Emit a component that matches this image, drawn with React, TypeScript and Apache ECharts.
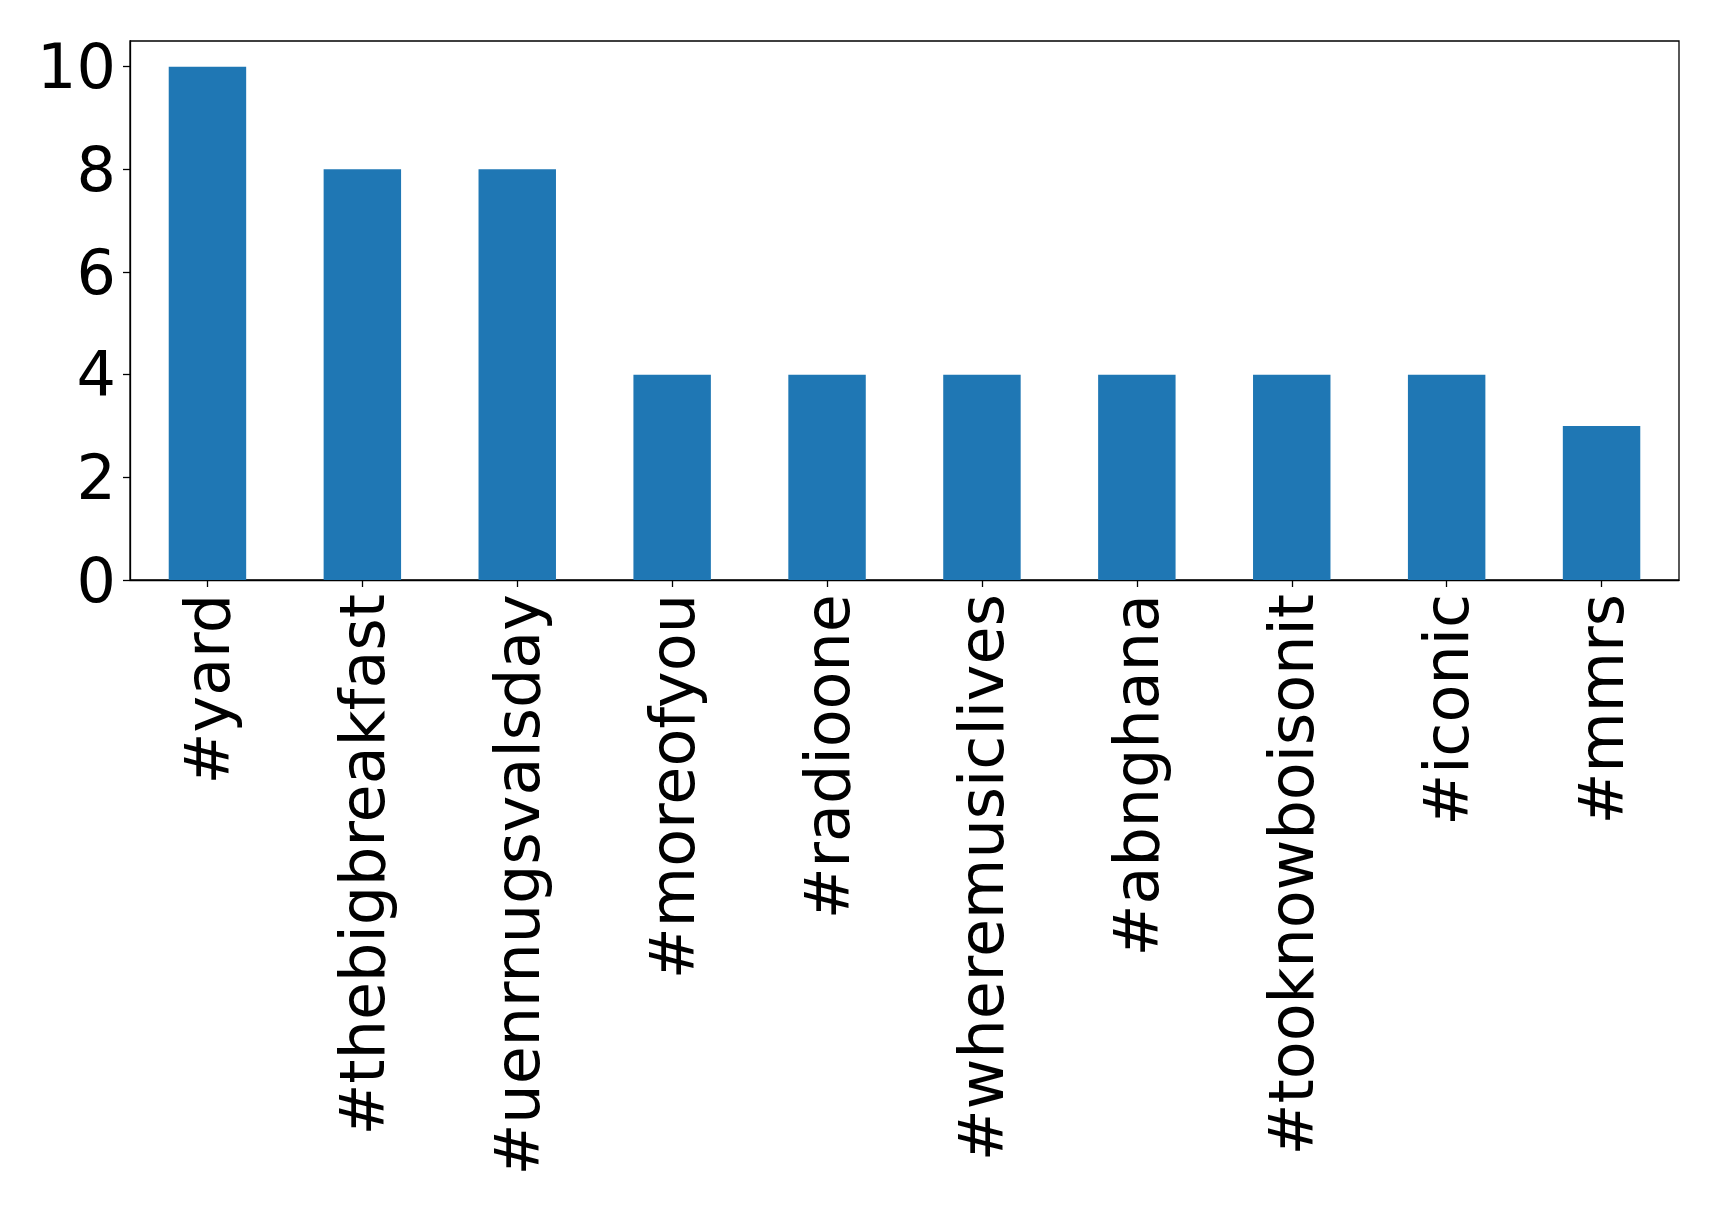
import React, { useEffect, useRef } from "react";
import * as echarts from "echarts";

const categories = [
  "#yard",
  "#thebigbreakfast",
  "#uenrnugsvalsday",
  "#moreofyou",
  "#radioone",
  "#wheremusiclives",
  "#abnghana",
  "#tooknowboisonit",
  "#iconic",
  "#mmrs",
];
const counts = [10, 8, 8, 4, 4, 4, 4, 4, 4, 3];
const yTicks = [0, 2, 4, 6, 8, 10];

export default function App() {
  const ref = useRef<HTMLDivElement>(null);
  useEffect(() => {
    document.body.style.margin = "0";
    const chart = echarts.init(ref.current!, undefined, { renderer: "svg" });
    const font = "DejaVu Sans";
    chart.setOption({
      animation: false,
      backgroundColor: "#ffffff",
      grid: {
        left: 130,
        right: 40,
        top: 41,
        bottom: 634,
        show: true,
        borderColor: "#000",
        borderWidth: 1.3,
        backgroundColor: "transparent",
      },
      xAxis: {
        type: "category",
        data: categories,
        boundaryGap: true,
        axisLine: { show: true, lineStyle: { color: "#000", width: 1.3 } },
        axisTick: { show: true, alignWithLabel: true, length: 7, lineStyle: { color: "#000", width: 1.3 } },
        axisLabel: {
          rotate: 90,
          interval: 0,
          margin: 14,
          color: "#000",
          fontFamily: font,
          fontSize: 62,
        },
        splitLine: { show: false },
      },
      yAxis: {
        type: "value",
        min: 0,
        max: 10.5,
        interval: 2,
        axisLine: { show: true, lineStyle: { color: "#000", width: 1.3 } },
        axisTick: { show: true, length: 7, customValues: yTicks, lineStyle: { color: "#000", width: 1.3 } },
        axisLabel: {
          customValues: yTicks,
          margin: 14,
          color: "#000",
          fontFamily: font,
          fontSize: 62,
        },
        splitLine: { show: false },
      },
      series: [
        {
          type: "bar",
          data: counts,
          barWidth: "50%",
          itemStyle: { color: "#1f77b4" },
        },
      ],
    });
    return () => chart.dispose();
  }, []);
  return <div ref={ref} style={{ width: 1719, height: 1214 }} />;
}
